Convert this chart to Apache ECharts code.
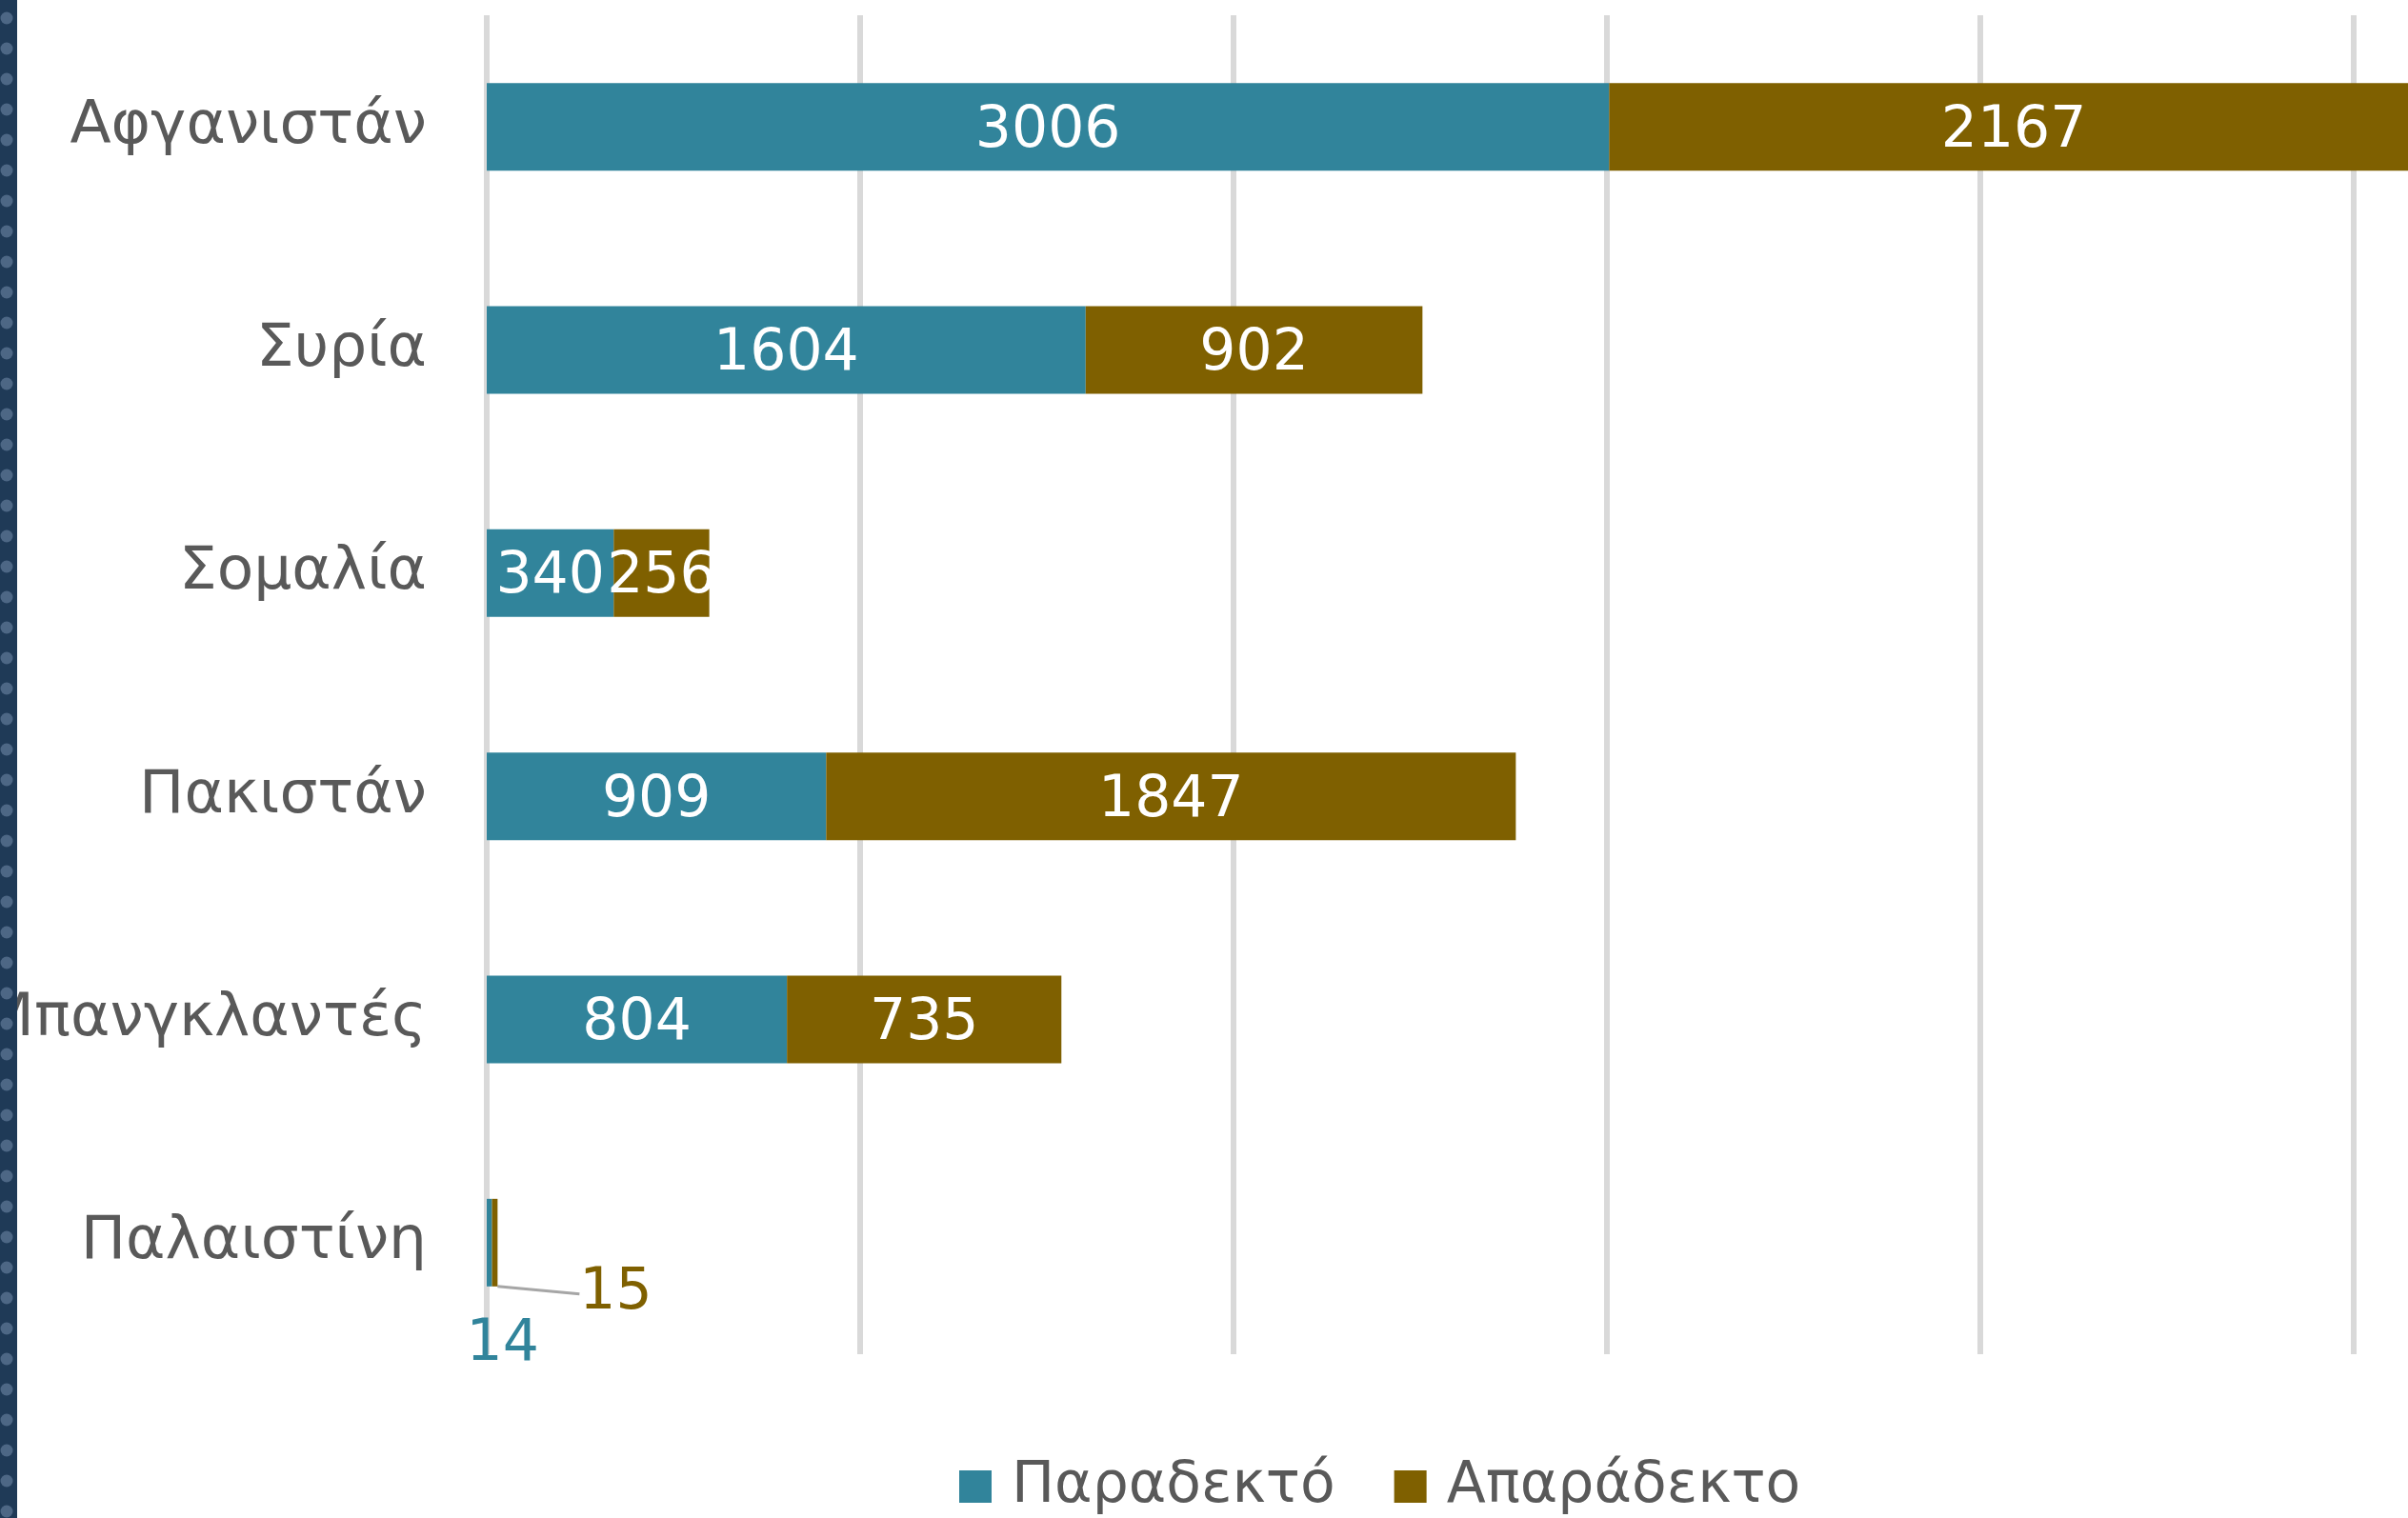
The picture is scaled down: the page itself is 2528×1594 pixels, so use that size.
<!DOCTYPE html>
<html>
<head>
<meta charset="utf-8">
<script src="https://cdn.jsdelivr.net/npm/echarts@6/dist/echarts.min.js"></script>
<style>
html,body{margin:0;padding:0;background:#fff;}
#c{width:2528px;height:1594px;}
</style>
</head>
<body>
<div id="c"></div>
<script>
const categories = ['Αφγανιστάν', 'Συρία', 'Σομαλία', 'Πακιστάν', 'Μπανγκλαντές', 'Παλαιστίνη'];
const acceptable = [3006, 1604, 340, 909, 804, 14];
const unacceptable = [2167, 902, 256, 1847, 735, 15];
const seriesNames = ['Παραδεκτό', 'Απαράδεκτο'];
const xTicks = [0, 1000, 2000, 3000, 4000, 5000];

const TEAL = '#31849B';
const BROWN = '#7F6000';
const FONT = 'DejaVu Sans';

const chart = echarts.init(document.getElementById('c'), null, {renderer: 'canvas'});

const dots = [];
for (let y = 19; y < 1594; y += 32) {
  dots.push({type: 'circle', shape: {cx: 7, cy: y, r: 6.5}, style: {fill: '#4d6785'}, z: 101});
}

const tealData = acceptable.map((v, i) => {
  if (v < 100) {
    return {value: v, label: {position: 'bottom', distance: 32, color: TEAL}};
  }
  return v;
});
const brownData = unacceptable.map((v, i) => {
  if (v < 100) {
    return {value: v, label: {position: 'right', distance: 6, color: BROWN},
            labelLine: {show: true, lineStyle: {color: '#a6a6a6', width: 3}}};
  }
  return v;
});

chart.setOption({
  animation: false,
  backgroundColor: '#ffffff',
  textStyle: {fontFamily: FONT},
  grid: {left: 511, top: 16, height: 1406, width: 1960, containLabel: false, outerBoundsMode: 'none'},
  xAxis: {
    type: 'value', min: xTicks[0], max: xTicks[xTicks.length - 1], interval: 1000,
    axisLabel: {show: false}, axisLine: {show: false}, axisTick: {show: false},
    splitLine: {show: true, lineStyle: {color: '#d9d9d9', width: 6}}
  },
  yAxis: {
    type: 'category', data: categories, inverse: true,
    axisLine: {show: false}, axisTick: {show: false},
    axisLabel: {fontSize: 63, color: '#595959', margin: 63, fontFamily: FONT}
  },
  legend: {
    left: 1002, top: 1526, itemWidth: 34, itemHeight: 34, itemGap: 62,
    icon: 'rect',
    data: seriesNames,
    textStyle: {fontSize: 60, color: '#595959', fontFamily: FONT, padding: [0, 0, 0, 16]}
  },
  graphic: [
    {type: 'rect', shape: {x: 0, y: 0, width: 18, height: 1594}, style: {fill: '#1f3a57'}, z: 100},
    {type: 'group', children: dots, z: 101}
  ],
  series: [
    {
      name: seriesNames[0], type: 'bar', stack: 'total', barWidth: 92, clip: false,
      itemStyle: {color: TEAL},
      label: {show: true, position: 'inside', color: '#ffffff', fontSize: 60, fontFamily: FONT},
      labelLayout: function (p) {
        if (acceptable[p.dataIndex] < 100) { return {dx: 14}; }
        return {dy: 5};
      },
      data: tealData
    },
    {
      name: seriesNames[1], type: 'bar', stack: 'total', barWidth: 92, clip: false,
      itemStyle: {color: BROWN},
      label: {show: true, position: 'inside', color: '#ffffff', fontSize: 60, fontFamily: FONT},
      labelLayout: function (p) {
        if (unacceptable[p.dataIndex] < 100) { return {dx: 80, dy: 54}; }
        return {dy: 5};
      },
      data: brownData
    }
  ]
});
</script>
</body>
</html>
